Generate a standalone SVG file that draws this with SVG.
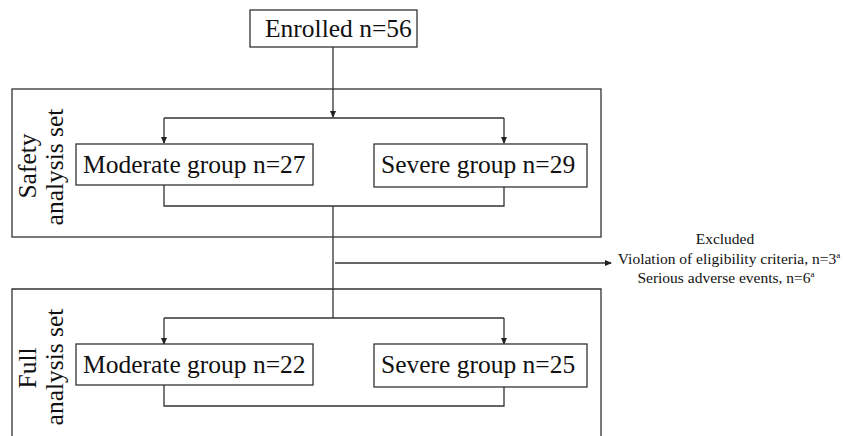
<svg xmlns="http://www.w3.org/2000/svg" width="844" height="436" viewBox="0 0 844 436">
<style>
.box{fill:#fff;stroke:#333;stroke-width:1.3}
.set{fill:none;stroke:#333;stroke-width:1.3}
.ln{fill:none;stroke:#333;stroke-width:1.3}
.big{font-family:"Liberation Serif",serif;font-size:25.5px;fill:#111}
.sm{font-family:"Liberation Serif",serif;font-size:15.5px;fill:#111;text-anchor:middle}
</style>
<defs>
<marker id="ah" markerWidth="7" markerHeight="6" refX="6" refY="3" orient="auto" markerUnits="userSpaceOnUse">
<path d="M0,0 L7,3 L0,6 Z" fill="#222"/>
</marker>
</defs>
<g id="safety-set">
<rect class="set" x="12" y="89" width="589" height="148"/>
<text class="big" text-anchor="middle" transform="translate(36,166) rotate(-90)">Safety</text>
<text class="big" text-anchor="middle" transform="translate(63,167) rotate(-90)">analysis set</text>
</g>
<g id="full-set">
<path class="set" d="M12,440 V289 H601 V440"/>
<text class="big" text-anchor="middle" transform="translate(36,368) rotate(-90)">Full</text>
<text class="big" text-anchor="middle" transform="translate(63,367) rotate(-90)">analysis set</text>
</g>
<g id="connectors">
<path class="ln" d="M333,47 V117" marker-end="url(#ah)"/>
<path class="ln" d="M164,118 H504"/>
<path class="ln" d="M164,118 V143" marker-end="url(#ah)"/>
<path class="ln" d="M504,118 V143" marker-end="url(#ah)"/>
<path class="ln" d="M164,185 V206 H504 V187"/>
<path class="ln" d="M333,206 V318"/>
<path class="ln" d="M335,263 H611" marker-end="url(#ah)"/>
<path class="ln" d="M164,318 H504"/>
<path class="ln" d="M164,318 V344" marker-end="url(#ah)"/>
<path class="ln" d="M504,318 V344" marker-end="url(#ah)"/>
<path class="ln" d="M164,385 V406 H504 V387"/>
</g>
<g id="enrolled">
<rect class="box" x="250" y="10" width="167" height="37"/>
<text class="big" x="265" y="37">Enrolled n=56</text>
</g>
<g id="safety-moderate">
<rect class="box" x="76" y="144" width="237" height="41"/>
<text class="big" x="83" y="173">Moderate group n=27</text>
</g>
<g id="safety-severe">
<rect class="box" x="374" y="144" width="213" height="43"/>
<text class="big" x="381" y="173">Severe group n=29</text>
</g>
<g id="full-moderate">
<rect class="box" x="76" y="344" width="237" height="41"/>
<text class="big" x="83" y="373">Moderate group n=22</text>
</g>
<g id="full-severe">
<rect class="box" x="374" y="344" width="213" height="43"/>
<text class="big" x="381" y="373">Severe group n=25</text>
</g>
<g id="excluded">
<text class="sm" x="725" y="244">Excluded</text>
<text class="sm" x="729" y="264">Violation of eligibility criteria, n=3<tspan font-size="9" dy="-6">a</tspan></text>
<text class="sm" x="726" y="283">Serious adverse events, n=6<tspan font-size="9" dy="-6">a</tspan></text>
</g>
</svg>
